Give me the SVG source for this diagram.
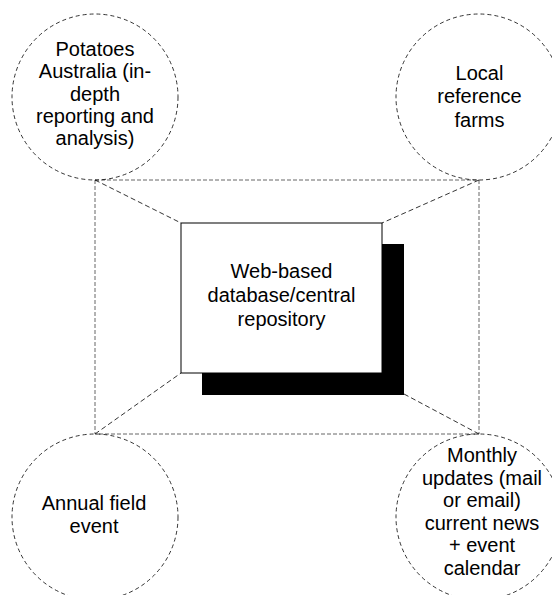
<svg xmlns="http://www.w3.org/2000/svg" width="552" height="595" viewBox="0 0 552 595">
<style>
.c{fill:none;stroke:#000;stroke-width:0.8;stroke-dasharray:4,3}
.r{fill:none;stroke:#666;stroke-width:1;stroke-dasharray:4,2}
.d{fill:none;stroke:#000;stroke-width:0.8;stroke-dasharray:5,3}
text{font-family:"Liberation Sans",Arial,sans-serif;font-size:20px;fill:#000;text-anchor:middle}
</style>
<rect width="552" height="595" fill="#fff"/>
<g id="connectors">
<rect class="r" x="95" y="180" width="384" height="254"/>
<line class="d" x1="95" y1="180" x2="181" y2="223"/>
<line class="d" x1="479" y1="180" x2="382" y2="223"/>
<line class="d" x1="95" y1="434" x2="181" y2="373"/>
<line class="d" x1="479" y1="434" x2="404" y2="394"/>
</g>
<g id="center">
<rect x="202" y="244" width="202" height="151" fill="#000"/>
<rect x="181" y="223" width="201" height="150" fill="#fff" stroke="#000" stroke-width="1"/>
<text x="281.5" y="278">Web-based</text>
<text x="281.5" y="302">database/central</text>
<text x="281.5" y="326">repository</text>
</g>
<g id="potatoes">
<circle class="c" cx="95" cy="97" r="83"/>
<text x="95" y="56">Potatoes</text>
<text x="95" y="78">Australia (in-</text>
<text x="95" y="100.5">depth</text>
<text x="95" y="123">reporting and</text>
<text x="95" y="145">analysis)</text>
</g>
<g id="farms">
<circle class="c" cx="479" cy="97" r="83"/>
<text x="479.5" y="80">Local</text>
<text x="479.5" y="103">reference</text>
<text x="479.5" y="126.5">farms</text>
</g>
<g id="field">
<circle class="c" cx="95" cy="517" r="83"/>
<text x="94" y="510">Annual field</text>
<text x="94" y="533">event</text>
</g>
<g id="monthly">
<circle class="c" cx="479" cy="517" r="83"/>
<text x="482" y="462">Monthly</text>
<text x="482" y="484.5">updates (mail</text>
<text x="482" y="507">or email)</text>
<text x="482" y="529.5">current news</text>
<text x="482" y="552">+ event</text>
<text x="482" y="575">calendar</text>
</g>
</svg>
